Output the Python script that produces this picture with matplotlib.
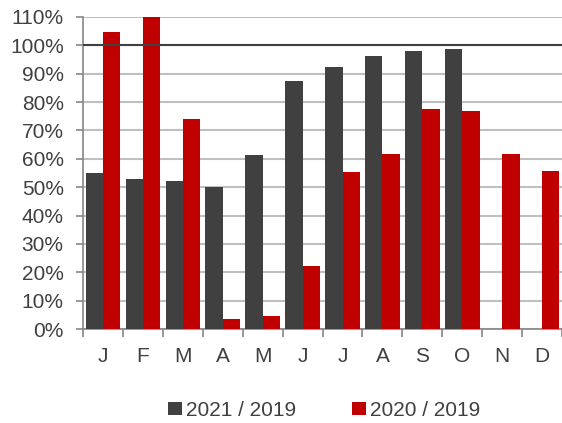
import matplotlib
matplotlib.use("Agg")
import matplotlib.pyplot as plt
import numpy as np
from matplotlib.ticker import FuncFormatter, FixedLocator

plt.rcParams['font.family'] = ['Liberation Sans', 'DejaVu Sans']

months = ["J", "F", "M", "A", "M", "J", "J", "A", "S", "O", "N", "D"]
r2021 = [55, 52.8, 52.1, 50.1, 61.4, 87.4, 92.4, 96.4, 98.1, 98.7, 0, 0]
r2020 = [104.8, 112, 74, 3.6, 4.6, 22.4, 55.5, 61.6, 77.6, 77.0, 61.6, 55.7]

dark = "#404040"
red = "#c00000"

fig = plt.figure(figsize=(5.62, 4.23), dpi=100)
ax = fig.add_axes([0.148, 0.222, 0.852, 0.738])

x = np.arange(len(months))
w = 0.435
ax.bar(x - w / 2, r2021, w, color=dark, label="2021 / 2019", zorder=3)
ax.bar(x + w / 2, r2020, w, color=red, label="2020 / 2019", zorder=3)

ax.set_xlim(-0.5, len(months) - 0.5)
ax.set_ylim(0, 110)
ax.set_yticks(np.arange(0, 111, 10))
ax.yaxis.set_major_formatter(FuncFormatter(lambda v, p: f"{v:.0f}%"))
ax.grid(axis="y", color="#bfbfbf", linewidth=1.5, zorder=0)
ax.axhline(100, color=dark, linewidth=1.5, zorder=4)

ax.set_xticks(x)
ax.set_xticklabels(months)
ax.tick_params(axis="x", which="major", length=0, pad=13, labelsize=15, colors="#404040")
ax.xaxis.set_minor_locator(FixedLocator(np.arange(-0.5, len(months), 1)))
ax.tick_params(axis="x", which="minor", length=6, color="#868686", width=1.2)
ax.tick_params(axis="y", length=5, color="#868686", width=1.2, labelsize=15,
               labelcolor="#404040", pad=9)

for s in ["top", "right"]:
    ax.spines[s].set_visible(False)
for s in ["left", "bottom"]:
    ax.spines[s].set_color("#868686")
    ax.spines[s].set_linewidth(1.2)

fig.legend(loc="center", bbox_to_anchor=(0.577, 0.03), ncol=2, frameon=False,
           fontsize=15, handlelength=0.65, handleheight=0.65, handletextpad=0.2,
           columnspacing=2.7, labelcolor="#404040")

fig.savefig("out.png", dpi=100)
